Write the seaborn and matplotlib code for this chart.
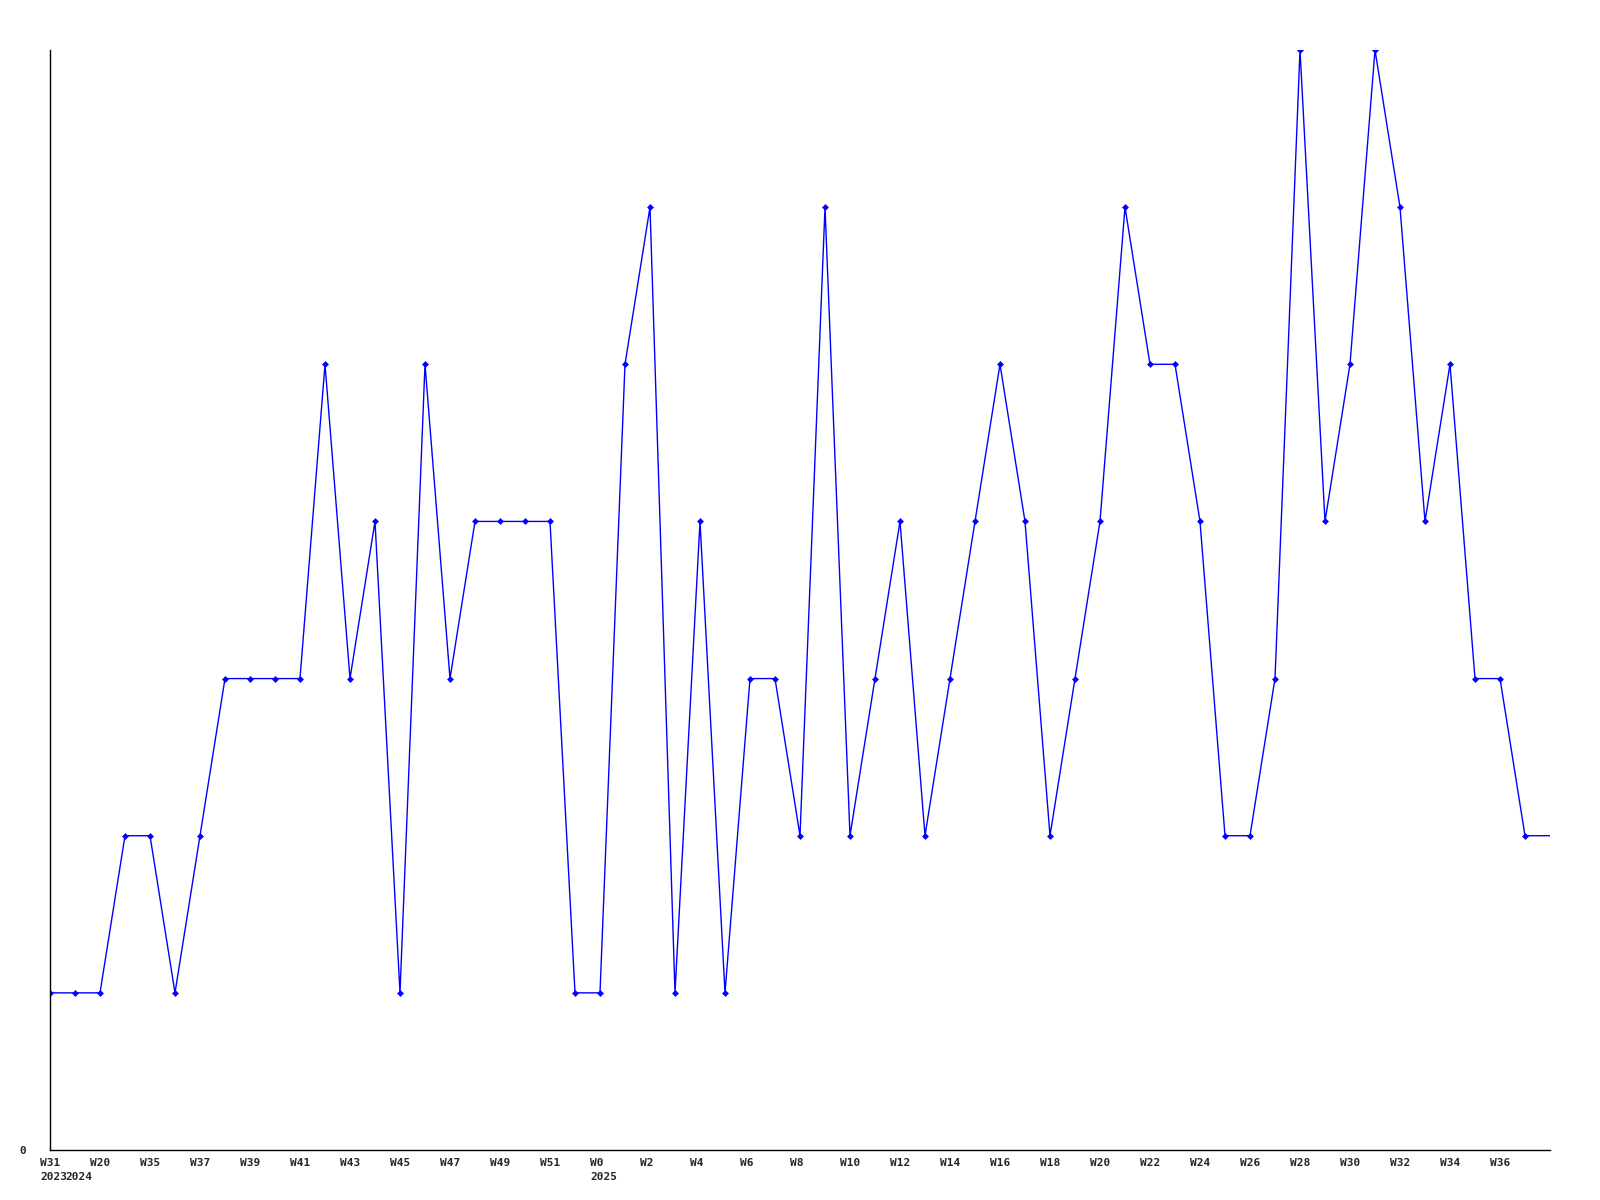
import numpy as np
import pandas as pd
import matplotlib
matplotlib.use("Agg")
import matplotlib.pyplot as plt
import matplotlib.transforms as mtransforms
import seaborn as sns

# weekly counts, one per week slot
counts = [1, 1, 1, 2, 2, 1, 2, 3, 3, 3, 3, 5, 3, 4, 1, 5, 3, 4, 4, 4,
          4, 1, 1, 5, 6, 1, 4, 1, 3, 3, 2, 6, 2, 3, 4, 2, 3, 4, 5, 4,
          2, 3, 4, 6, 5, 5, 4, 2, 2, 3, 7, 4, 5, 7, 6, 4, 5, 3, 3, 2, 2]

# labels shown on every other slot
week_labels = ["W31", "W20", "W35", "W37", "W39", "W41", "W43", "W45", "W47", "W49",
               "W51", "W0", "W2", "W4", "W6", "W8", "W10", "W12", "W14", "W16",
               "W18", "W20", "W22", "W24", "W26", "W28", "W30", "W32", "W34", "W36"]
year_slots = [0, 1, 22]
year_labels = ["2023", "2024", "2025"]

df = pd.DataFrame({"slot": np.arange(len(counts)), "count": counts})

sns.set_style("white")
plt.rcParams["font.family"] = ["DejaVu Sans Mono"]

fig = plt.figure(figsize=(16, 12), dpi=100)
ax = fig.add_axes([50 / 1600, 1 - 1150 / 1200, 1500 / 1600, 1100 / 1200])

sns.lineplot(data=df, x="slot", y="count", ax=ax, color="#0000ff", linewidth=1.0,
             marker="D", markersize=3.5, markeredgewidth=0,
             markevery=list(range(len(counts) - 1)))

ax.set_xlim(0, len(counts) - 1)
ax.set_ylim(0, 7)

# tick labels: week on even slots, year on a second line where the year starts
labels = []
for i in range(len(counts)):
    top = week_labels[i // 2] if i % 2 == 0 and i // 2 < len(week_labels) else ""
    bottom = year_labels[year_slots.index(i)] if i in year_slots else ""
    labels.append(top + ("\n" + bottom if bottom else ""))
ax.set_xticks(range(len(counts)))
ax.set_xticklabels(labels, ha="left", va="top", fontsize=8, fontweight="bold",
                   linespacing=1.4)

ax.set_yticks([0])
ax.set_yticklabels(["0"], fontsize=8, fontweight="bold")
ax.tick_params(axis="x", length=0, pad=6)
ax.tick_params(axis="y", length=0, pad=17)

# shift x labels 10px left (after tick_params, which resets transforms)
offset = mtransforms.ScaledTranslation(-10 / 100, 0, fig.dpi_scale_trans)
for lbl in ax.get_xticklabels():
    lbl.set_transform(lbl.get_transform() + offset)

ax.set_xlabel("")
ax.set_ylabel("")
for s in ["top", "right"]:
    ax.spines[s].set_visible(False)
for s in ["left", "bottom"]:
    ax.spines[s].set_color("black")
    ax.spines[s].set_linewidth(1.0)
ax.grid(False)

fig.savefig("out.png", dpi=100, facecolor="white")
